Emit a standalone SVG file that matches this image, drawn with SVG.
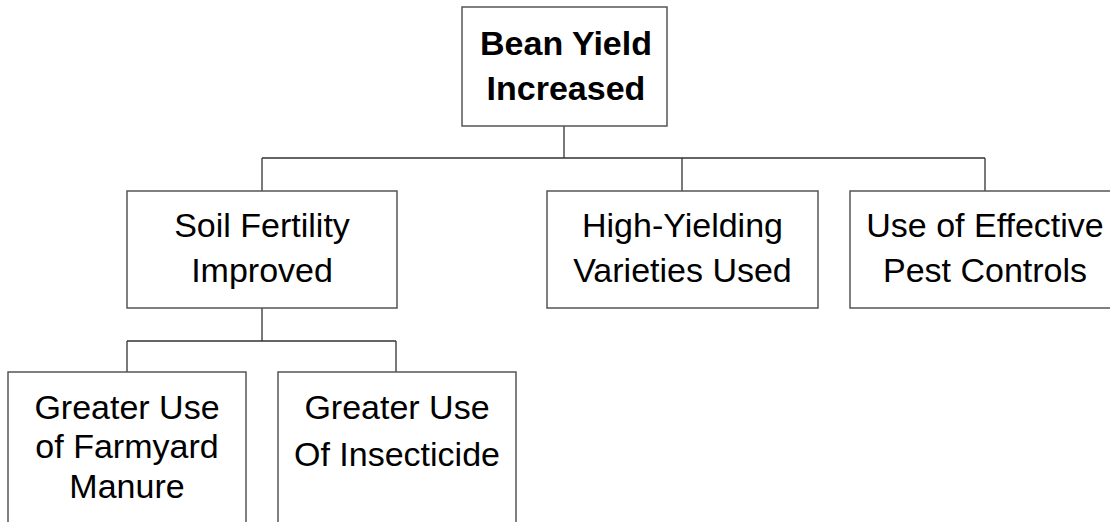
<svg xmlns="http://www.w3.org/2000/svg" width="1110" height="522" viewBox="0 0 1110 522">
<style>
.box{fill:#fff;stroke:#555;stroke-width:1.5}
.ln{fill:none;stroke:#333;stroke-width:1.3}
text{font-family:"Liberation Sans",Arial,sans-serif;font-size:34px;fill:#000;text-anchor:middle}
.b{font-weight:bold}
</style>
<rect width="1110" height="522" fill="#fff"/>
<g id="connectors">
<path class="ln" d="M564,126V158M262,158H985M262,158V191M682,158V191M985,158V191"/>
<path class="ln" d="M262,308V341M127,341H396M127,341V372M396,341V372"/>
</g>
<g id="root">
<rect class="box" x="462" y="7" width="205" height="119"/>
<text class="b" x="566" y="55">Bean Yield</text>
<text class="b" x="566" y="100">Increased</text>
</g>
<g id="soil">
<rect class="box" x="127" y="191" width="270" height="117"/>
<text x="262" y="237">Soil Fertility</text>
<text x="262" y="282">Improved</text>
</g>
<g id="varieties">
<rect class="box" x="547" y="191" width="271" height="117"/>
<text x="682.5" y="237">High-Yielding</text>
<text x="682.5" y="282">Varieties Used</text>
</g>
<g id="pest">
<rect class="box" x="850" y="191" width="270" height="117"/>
<text x="985" y="237">Use of Effective</text>
<text x="985" y="282">Pest Controls</text>
</g>
<g id="manure">
<rect class="box" x="8" y="372" width="238" height="160"/>
<text x="127" y="419">Greater Use</text>
<text x="127" y="458">of Farmyard</text>
<text x="127" y="498">Manure</text>
</g>
<g id="insecticide">
<rect class="box" x="278" y="372" width="238" height="160"/>
<text x="397" y="419">Greater Use</text>
<text x="397" y="466">Of Insecticide</text>
</g>
</svg>
